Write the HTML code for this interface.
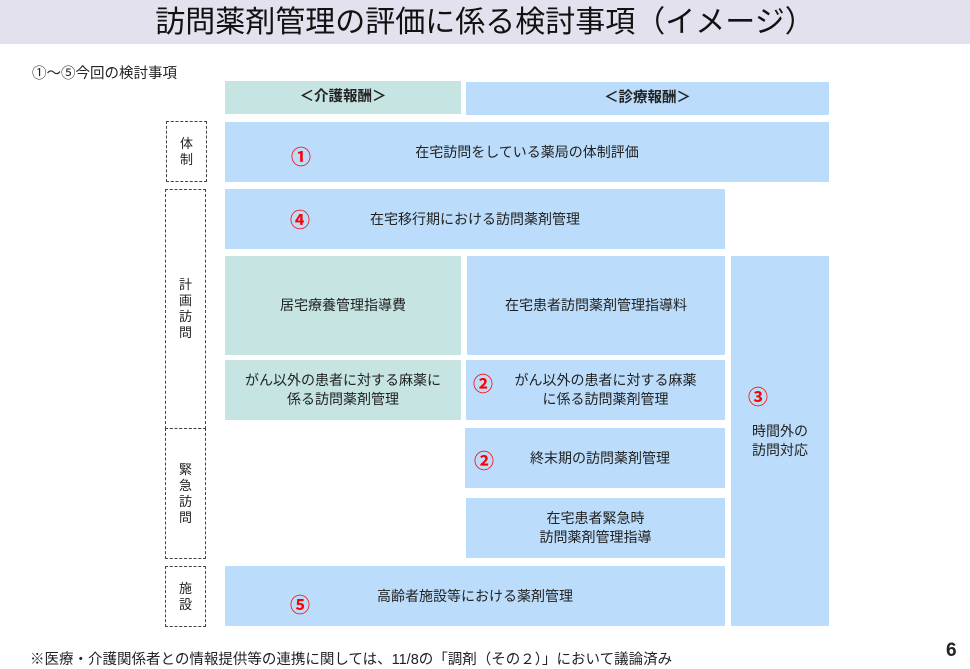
<!DOCTYPE html>
<html><head><meta charset="utf-8"><style>
body{margin:0;width:970px;height:669px;background:#fff;position:relative;overflow:hidden;font-family:"Liberation Sans","Noto Sans CJK JP",sans-serif;color:#222}
.a{position:absolute;display:flex;align-items:center;justify-content:center;text-align:center;font-size:14px;line-height:19px}
.b{background:#bbdcfa}.t{background:#c5e4e2}
.d{position:absolute;border:1.3px dashed #444;box-sizing:border-box;display:flex;align-items:center;justify-content:center;font-size:13px;line-height:16px;text-align:center}
.n{color:#f00;font-size:20px;font-weight:bold;position:absolute}
</style></head><body>
<div class="a" style="left:0;top:0;width:970px;height:44px;background:#e3e1ed;font-size:30px;color:#111">訪問薬剤管理の評価に係る検討事項（イメージ）</div>
<div style="position:absolute;left:32px;top:62px;font-size:14.5px">①～⑤今回の検討事項</div>
<div class="a t" style="left:225px;top:81px;width:236px;height:33px;font-weight:bold;font-size:14.5px">＜介護報酬＞</div>
<div class="a b" style="left:466px;top:82px;width:363px;height:33px;font-weight:bold;font-size:14.5px">＜診療報酬＞</div>
<div class="a b" style="left:225px;top:122px;width:604px;height:60px">在宅訪問をしている薬局の体制評価</div>
<div class="n" style="left:291px;top:141px">①</div>
<div class="a b" style="left:225px;top:189px;width:500px;height:60px">在宅移行期における訪問薬剤管理</div>
<div class="n" style="left:290px;top:204px">④</div>
<div class="a t" style="left:225px;top:256px;width:236px;height:99px">居宅療養管理指導費</div>
<div class="a b" style="left:467px;top:256px;width:258px;height:99px">在宅患者訪問薬剤管理指導料</div>
<div class="a t" style="left:225px;top:360px;width:236px;height:60px">がん以外の患者に対する麻薬に<br>係る訪問薬剤管理</div>
<div class="a b" style="left:466px;top:360px;width:259px;height:60px;padding-left:20px;box-sizing:border-box">がん以外の患者に対する麻薬<br>に係る訪問薬剤管理</div>
<div class="n" style="left:473px;top:368px">②</div>
<div class="a b" style="left:731px;top:256px;width:98px;height:370px;align-items:flex-start;padding-top:166px;box-sizing:border-box">時間外の<br>訪問対応</div>
<div class="n" style="left:748px;top:381px">③</div>
<div class="a b" style="left:465px;top:428px;width:260px;height:60px;padding-left:10px;box-sizing:border-box">終末期の訪問薬剤管理</div>
<div class="n" style="left:474px;top:445px">②</div>
<div class="a b" style="left:466px;top:498px;width:259px;height:60px">在宅患者緊急時<br>訪問薬剤管理指導</div>
<div class="a b" style="left:225px;top:566px;width:500px;height:60px">高齢者施設等における薬剤管理</div>
<div class="n" style="left:290px;top:589px">⑤</div>
<div class="d" style="left:166px;top:121px;width:41px;height:61px">体<br>制</div>
<div class="d" style="left:165px;top:189px;width:41px;height:240px">計<br>画<br>訪<br>問</div>
<div class="d" style="left:165px;top:428px;width:41px;height:131px">緊<br>急<br>訪<br>問</div>
<div class="d" style="left:165px;top:566px;width:41px;height:61px">施<br>設</div>
<div style="position:absolute;left:30px;top:648px;font-size:14.5px">※医療・介護関係者との情報提供等の連携に関しては、11/8の「調剤（その２）」において議論済み</div>
<div style="position:absolute;left:946px;top:640px;font-size:19px;font-weight:bold">6</div>
</body></html>
